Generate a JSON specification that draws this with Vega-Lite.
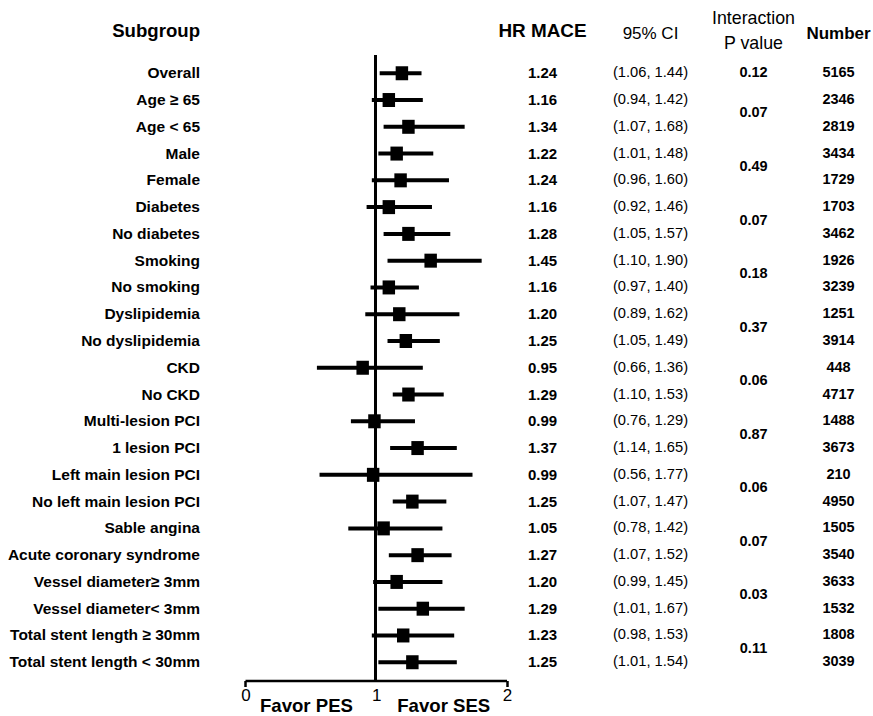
{
  "$schema": "https://vega.github.io/schema/vega-lite/v6.json",
  "padding": {"left": 0, "top": 10, "right": 0, "bottom": 0},
  "background": "white",
  "config": {
    "view": {"stroke": null},
    "font": "Liberation Sans",
    "text": {"color": "black"}
  },
  "bounds": "flush",
  "spacing": 0,
  "datasets": {
    "rows": [
      {"subgroup": "Overall", "est": 1.20, "lo": 1.03, "hi": 1.35, "hr": "1.24", "ci": "(1.06, 1.44)", "p": "0.12", "pspan": 1, "n": "5165"},
      {"subgroup": "Age ≥ 65", "est": 1.10, "lo": 0.97, "hi": 1.36, "hr": "1.16", "ci": "(0.94, 1.42)", "p": "0.07", "pspan": 2, "n": "2346"},
      {"subgroup": "Age < 65", "est": 1.25, "lo": 1.06, "hi": 1.68, "hr": "1.34", "ci": "(1.07,  1.68)", "p": "", "pspan": 0, "n": "2819"},
      {"subgroup": "Male", "est": 1.16, "lo": 1.02, "hi": 1.44, "hr": "1.22", "ci": "(1.01, 1.48)", "p": "0.49", "pspan": 2, "n": "3434"},
      {"subgroup": "Female", "est": 1.19, "lo": 0.97, "hi": 1.56, "hr": "1.24", "ci": "(0.96,  1.60)", "p": "", "pspan": 0, "n": "1729"},
      {"subgroup": "Diabetes", "est": 1.10, "lo": 0.93, "hi": 1.43, "hr": "1.16", "ci": "(0.92, 1.46)", "p": "0.07", "pspan": 2, "n": "1703"},
      {"subgroup": "No diabetes", "est": 1.25, "lo": 1.06, "hi": 1.57, "hr": "1.28", "ci": "(1.05, 1.57)", "p": "", "pspan": 0, "n": "3462"},
      {"subgroup": "Smoking", "est": 1.42, "lo": 1.09, "hi": 1.81, "hr": "1.45", "ci": "(1.10, 1.90)", "p": "0.18", "pspan": 2, "n": "1926"},
      {"subgroup": "No smoking", "est": 1.10, "lo": 0.96, "hi": 1.33, "hr": "1.16", "ci": "(0.97, 1.40)", "p": "", "pspan": 0, "n": "3239"},
      {"subgroup": "Dyslipidemia", "est": 1.18, "lo": 0.92, "hi": 1.64, "hr": "1.20", "ci": "(0.89, 1.62)", "p": "0.37", "pspan": 2, "n": "1251"},
      {"subgroup": "No dyslipidemia", "est": 1.23, "lo": 1.09, "hi": 1.49, "hr": "1.25", "ci": "(1.05, 1.49)", "p": "", "pspan": 0, "n": "3914"},
      {"subgroup": "CKD", "est": 0.90, "lo": 0.55, "hi": 1.36, "hr": "0.95", "ci": "(0.66, 1.36)", "p": "0.06", "pspan": 2, "n": "448"},
      {"subgroup": "No CKD", "est": 1.25, "lo": 1.13, "hi": 1.52, "hr": "1.29", "ci": "(1.10, 1.53)", "p": "", "pspan": 0, "n": "4717"},
      {"subgroup": "Multi-lesion PCI", "est": 0.99, "lo": 0.81, "hi": 1.30, "hr": "0.99", "ci": "(0.76, 1.29)", "p": "0.87", "pspan": 2, "n": "1488"},
      {"subgroup": "1 lesion PCI", "est": 1.32, "lo": 1.11, "hi": 1.62, "hr": "1.37", "ci": "(1.14, 1.65)", "p": "", "pspan": 0, "n": "3673"},
      {"subgroup": "Left main lesion PCI", "est": 0.98, "lo": 0.57, "hi": 1.74, "hr": "0.99", "ci": "(0.56, 1.77)", "p": "0.06", "pspan": 2, "n": "210"},
      {"subgroup": "No left main lesion PCI", "est": 1.28, "lo": 1.13, "hi": 1.54, "hr": "1.25", "ci": "(1.07, 1.47)", "p": "", "pspan": 0, "n": "4950"},
      {"subgroup": "Sable angina", "est": 1.06, "lo": 0.79, "hi": 1.51, "hr": "1.05", "ci": "(0.78, 1.42)", "p": "0.07", "pspan": 2, "n": "1505"},
      {"subgroup": "Acute coronary syndrome", "est": 1.32, "lo": 1.10, "hi": 1.58, "hr": "1.27", "ci": "(1.07, 1.52)", "p": "", "pspan": 0, "n": "3540"},
      {"subgroup": "Vessel diameter≥ 3mm", "est": 1.16, "lo": 0.98, "hi": 1.51, "hr": "1.20", "ci": "(0.99, 1.45)", "p": "0.03", "pspan": 2, "n": "3633"},
      {"subgroup": "Vessel diameter< 3mm", "est": 1.36, "lo": 1.02, "hi": 1.68, "hr": "1.29", "ci": "(1.01, 1.67)", "p": "", "pspan": 0, "n": "1532"},
      {"subgroup": "Total stent length ≥ 30mm", "est": 1.21, "lo": 0.97, "hi": 1.60, "hr": "1.23", "ci": "(0.98, 1.53)", "p": "0.11", "pspan": 2, "n": "1808"},
      {"subgroup": "Total stent length < 30mm", "est": 1.28, "lo": 1.02, "hi": 1.62, "hr": "1.25", "ci": "(1.01, 1.54)", "p": "", "pspan": 0, "n": "3039"}
    ]
  },
  "data": {"name": "rows"},
  "hconcat": [
    {
      "width": 245,
      "height": 625.5,
      "title": {"text": "Subgroup", "anchor": "end", "frame": "group", "dx": -45, "fontSize": 18.6, "fontWeight": "bold", "baseline": "alphabetic", "offset": -0.5, "color": "black"},
      "mark": {"type": "text", "align": "right", "baseline": "middle", "dx": -45, "fontSize": 15.5, "fontWeight": "bold"},
      "encoding": {
        "y": {"field": "subgroup", "type": "nominal", "sort": null, "scale": {"type": "point", "padding": 0.682}, "axis": null},
        "x": {"value": "width"},
        "text": {"field": "subgroup"}
      }
    },
    {
      "width": 261.5,
      "height": 625.5,
      "layer": [
        {
          "mark": {"type": "rule", "color": "black", "strokeWidth": 2.5},
          "encoding": {"x": {"datum": 1, "type": "quantitative"}}
        },
        {
          "mark": {"type": "rule", "color": "black", "strokeWidth": 4},
          "encoding": {
            "y": {"field": "subgroup", "type": "nominal", "sort": null, "scale": {"type": "point", "padding": 0.682}, "axis": null},
            "x": {"field": "lo", "type": "quantitative", "scale": {"domain": [0, 2], "nice": false, "zero": false},
                  "axis": {"values": [0, 2], "labels": false, "title": null, "grid": false, "domainColor": "black", "domainWidth": 2.5,
                           "tickColor": "black", "tickWidth": 2.5, "tickSize": 6}},
            "x2": {"field": "hi"}
          }
        },
        {
          "mark": {"type": "point", "shape": "M-0.89,-1H0.89V1H-0.89Z", "filled": true, "color": "black", "size": 196, "opacity": 1},
          "encoding": {
            "y": {"field": "subgroup", "type": "nominal", "sort": null},
            "x": {"field": "est", "type": "quantitative"}
          }
        },
        {
          "data": {"values": [{"tick": 0}, {"tick": 1}, {"tick": 2}]},
          "mark": {"type": "text", "align": "center", "baseline": "top", "dy": 7, "dx": 1, "fontSize": 17, "fontWeight": "normal"},
          "encoding": {
            "x": {"field": "tick", "type": "quantitative"},
            "y": {"value": "height"},
            "text": {"field": "tick", "type": "quantitative", "format": "d"}
          }
        },
        {
          "data": {"values": [{"label": "Favor PES", "pos": 0.47}, {"label": "Favor SES", "pos": 1.52}]},
          "mark": {"type": "text", "align": "center", "baseline": "middle", "dy": 25.6, "fontSize": 18.6, "fontWeight": "bold"},
          "encoding": {
            "x": {"field": "pos", "type": "quantitative"},
            "y": {"value": "height"},
            "text": {"field": "label"}
          }
        }
      ]
    },
    {
      "width": 71,
      "height": 625.5,
      "title": {"text": "HR MACE", "anchor": "middle", "frame": "group", "fontSize": 18.9, "fontWeight": "bold", "baseline": "alphabetic", "offset": -0.5, "color": "black"},
      "mark": {"type": "text", "align": "center", "baseline": "middle", "fontSize": 15, "fontWeight": "bold"},
      "encoding": {
        "y": {"field": "subgroup", "type": "nominal", "sort": null, "scale": {"type": "point", "padding": 0.682}, "axis": null},
        "text": {"field": "hr"}
      }
    },
    {
      "width": 145,
      "height": 625.5,
      "title": {"text": "95% CI", "anchor": "middle", "frame": "group", "fontSize": 17, "fontWeight": "normal", "baseline": "alphabetic", "offset": -0.5, "color": "black"},
      "mark": {"type": "text", "align": "center", "baseline": "middle", "fontSize": 14.7, "fontWeight": "normal"},
      "encoding": {
        "y": {"field": "subgroup", "type": "nominal", "sort": null, "scale": {"type": "point", "padding": 0.682}, "axis": null},
        "text": {"field": "ci"}
      }
    },
    {
      "width": 61,
      "height": 625.5,
      "title": {"text": ["Interaction", "P  value"], "anchor": "middle", "frame": "group", "fontSize": 17.8, "fontWeight": "normal", "baseline": "alphabetic", "offset": -11.5, "lineHeight": 24.3, "color": "black"},
      "layer": [
        {
          "mark": {"type": "text", "align": "center", "baseline": "middle", "fontSize": 14.5, "fontWeight": "bold"},
          "encoding": {
            "y": {"field": "subgroup", "type": "nominal", "sort": null, "scale": {"type": "point", "padding": 0.682}, "axis": null},
            "text": {"condition": {"test": "datum.pspan === 1", "field": "p"}, "value": ""}
          }
        },
        {
          "mark": {"type": "text", "align": "center", "baseline": "middle", "dy": 13.4, "fontSize": 14.5, "fontWeight": "bold"},
          "encoding": {
            "y": {"field": "subgroup", "type": "nominal", "sort": null},
            "text": {"condition": {"test": "datum.pspan === 2", "field": "p"}, "value": ""}
          }
        }
      ]
    },
    {
      "width": 89.5,
      "height": 625.5,
      "title": {"text": "Number", "anchor": "middle", "frame": "group", "dx": 9.75, "fontSize": 17, "fontWeight": "bold", "baseline": "alphabetic", "offset": -0.5, "color": "black"},
      "mark": {"type": "text", "align": "center", "baseline": "middle", "dx": 9.75, "fontSize": 14.5, "fontWeight": "bold"},
      "encoding": {
        "y": {"field": "subgroup", "type": "nominal", "sort": null, "scale": {"type": "point", "padding": 0.682}, "axis": null},
        "text": {"field": "n"}
      }
    }
  ]
}
